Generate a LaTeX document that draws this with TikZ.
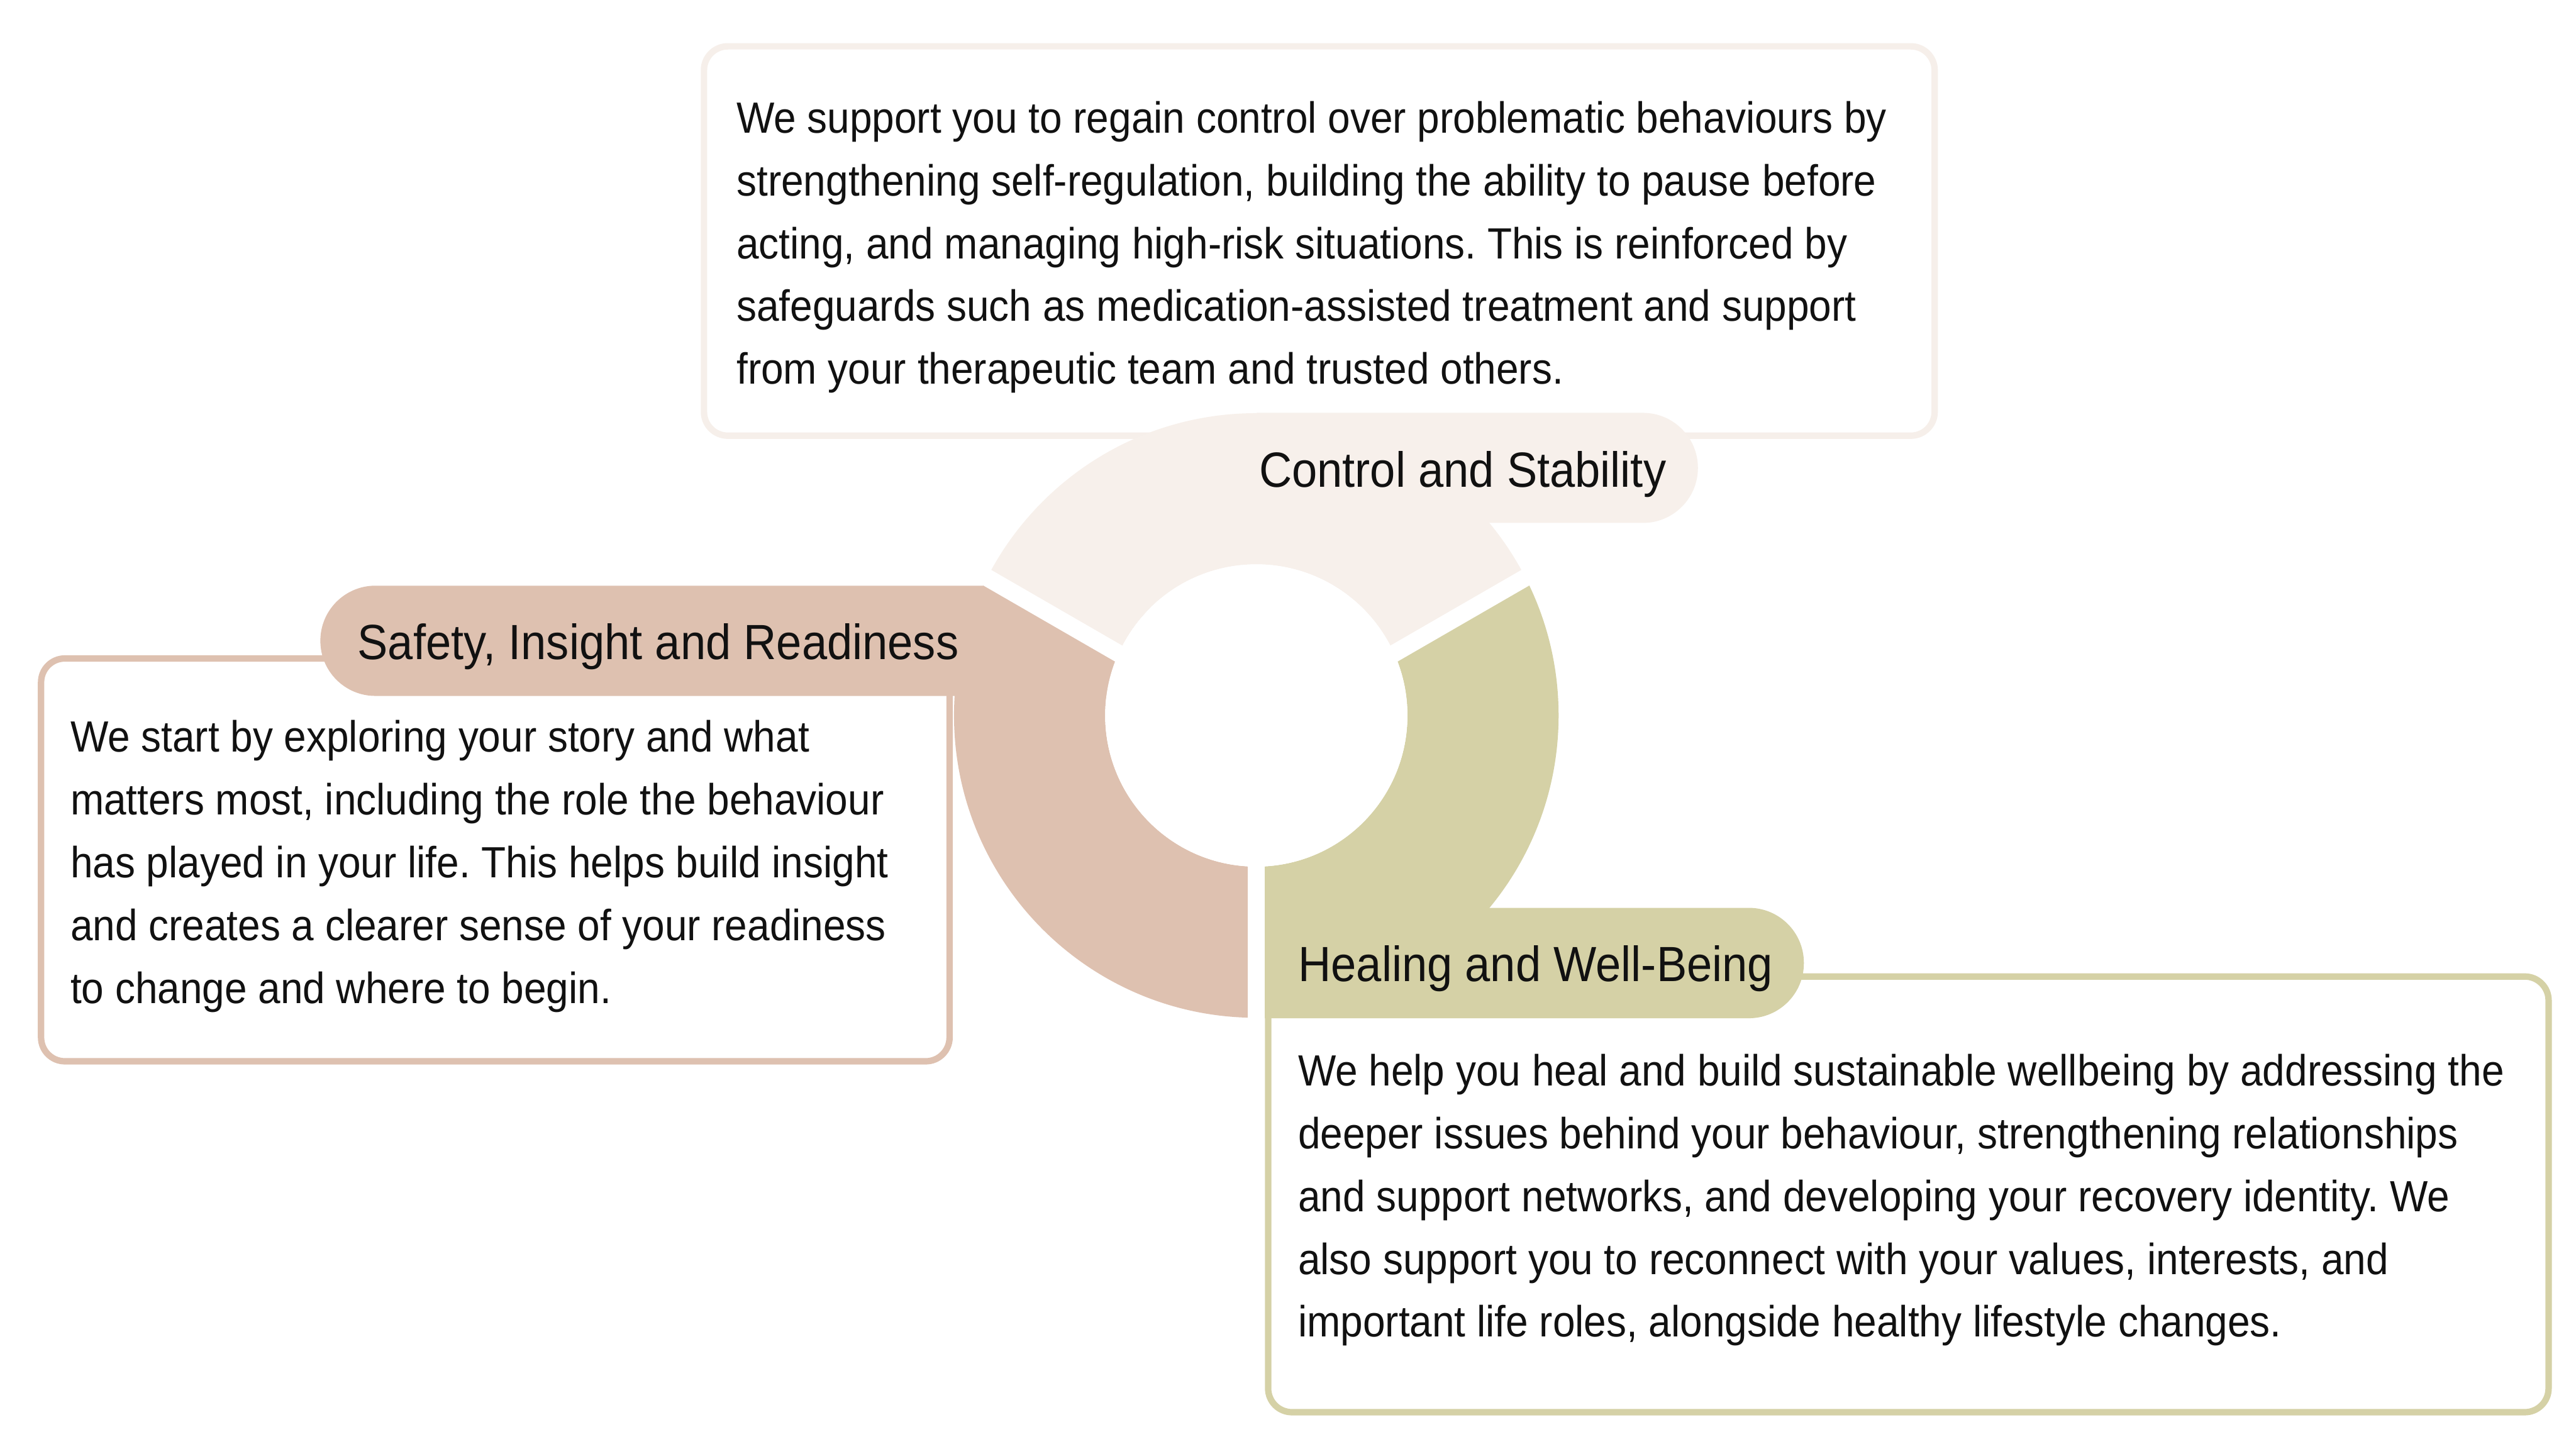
\documentclass[tikz,border=0pt]{standalone}
\usepackage{fontspec}
\setmainfont{Liberation Sans}[FakeStretch=0.92]
\frenchspacing
\definecolor{ctrlc}{HTML}{F7F0EB}
\definecolor{ctrlline}{HTML}{F6EFEA}
\definecolor{safec}{HTML}{DEC1B0}
\definecolor{healc}{HTML}{D5D1A6}
\definecolor{txt}{HTML}{111111}
\begin{document}
\begin{tikzpicture}[x=1pt,y=-1pt,
  box/.style={line width=3.9pt, rounded corners=14.5pt, fill=white},
  body/.style={anchor=base west, inner sep=0pt, align=left, text=txt,
    font=\fontsize{26.6}{38.2}\selectfont\frenchspacing},
  head/.style={anchor=base west, inner sep=0pt, text=txt,
    font=\fontsize{30.1}{36}\selectfont},
  gapline/.style={white, line width=10.6pt}]
\useasboundingbox (0,0) rectangle (1568,882);
\fill[white] (0,0) rectangle (1568,882);

% text boxes
\draw[box, draw=ctrlline] (428.5,28.2) rectangle (1177.6,265.2);
\draw[box, draw=safec] (25,400.8) rectangle (578,646);
\draw[box, draw=healc] (771.9,594.4) rectangle (1551.3,859.6);

% label pills
\fill[ctrlc] (765,251.3) {[rounded corners=33.5pt] -- (1033.5,251.3) -- (1033.5,318.3)} -- (765,318.3) -- cycle;
\fill[safec] (700,356.5) {[rounded corners=33.5pt] -- (195,356.5) -- (195,423.6)} -- (700,423.6) -- cycle;
\fill[healc] (765,552.6) {[rounded corners=33.5pt] -- (1098,552.6) -- (1098,619.8)} -- (765,619.8) -- cycle;

% donut
\coordinate (C) at (764.7,435.5);
\coordinate (Y) at (764.7,446.2);
\begin{scope}
  \clip (Y) -- (418.3,246.2) -- (418.3,0) -- (1111.1,0) -- (1111.1,246.2) -- cycle;
  \fill[ctrlc, even odd rule] (C) circle (184pt) (C) circle (92pt);
\end{scope}
\begin{scope}
  \clip (Y) -- (1111.1,246.2) -- (1111.1,700) -- (764.7,700) -- cycle;
  \fill[healc, even odd rule] (C) circle (184pt) (C) circle (92pt);
\end{scope}
\begin{scope}
  \clip (Y) -- (764.7,700) -- (418.3,700) -- (418.3,246.2) -- cycle;
  \fill[safec, even odd rule] (C) circle (184pt) (C) circle (92pt);
\end{scope}
\coordinate (gl) at (591.5,346.2);
\coordinate (gr) at (937.9,346.2);
\coordinate (gd) at (764.7,622);
\draw[gapline] (Y) -- (gl);
\draw[gapline] (Y) -- (gr);
\draw[gapline] (Y) -- (gd);
\fill[white] (C) circle (92pt);

% headings
\node[head] (hctrl) at (766.2,296.4) {Control and Stability};
\node[head] (hsafe) at (217.5,401.5) {Safety, Insight and Readiness};
\node[head] (hheal) at (790.1,597.5) {Healing and Well-Being};

% body texts (anchor = baseline of the last line)
\node[body] (tctrl) at (448.2,233.8) {We support you to regain control over problematic behaviours by\\
strengthening self-regulation, building the ability to pause before\\
acting, and managing high-risk situations. This is reinforced by\\
safeguards such as medication-assisted treatment and support\\
from your therapeutic team and trusted others.};
\node[body] (tsafe) at (42.7,610.6) {We start by exploring your story and what\\
matters most, including the role the behaviour\\
has played in your life. This helps build insight\\
and creates a clearer sense of your readiness\\
to change and where to begin.};
\node[body] (theal) at (790,813.8) {We help you heal and build sustainable wellbeing by addressing the\\
deeper issues behind your behaviour, strengthening relationships\\
and support networks, and developing your recovery identity. We\\
also support you to reconnect with your values, interests, and\\
important life roles, alongside healthy lifestyle changes.};
\end{tikzpicture}
\end{document}
